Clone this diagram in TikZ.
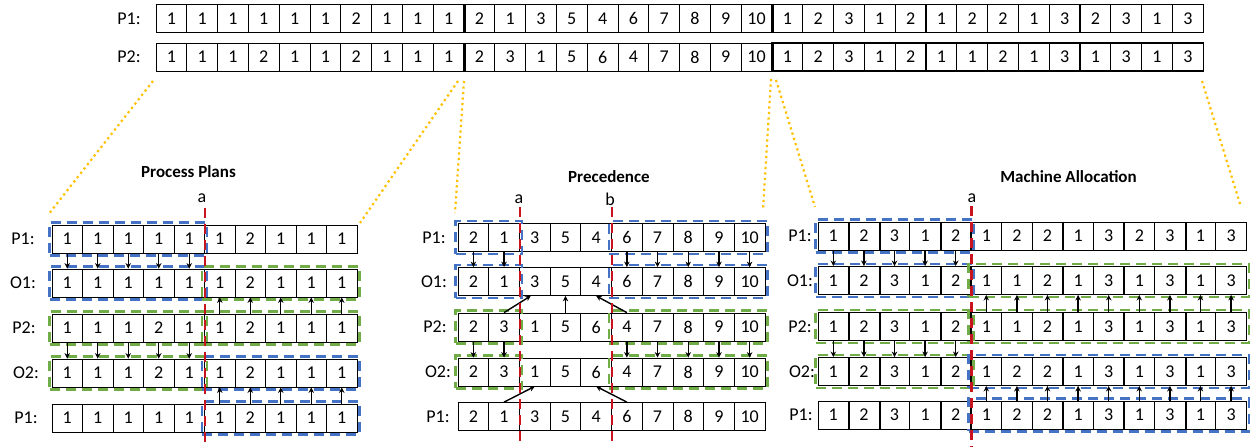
\documentclass[tikz,border=0pt]{standalone}
\usepackage{fontspec}
\setmainfont{Carlito}
\usetikzlibrary{arrows.meta,fit}

\definecolor{boxblue}{RGB}{68,114,196}
\definecolor{boxgreen}{RGB}{112,173,71}
\definecolor{cutred}{RGB}{200,20,30}
\definecolor{linkgold}{RGB}{255,192,0}

\tikzset{
  cell/.style={draw=black, line width=0.8pt, minimum height=28pt, inner sep=0pt,
    font=\fontsize{18}{21}\selectfont},
  rowlabel/.style={font=\fontsize{18}{21}\selectfont, inner sep=0pt},
  paneltitle/.style={font=\fontsize{17}{20}\selectfont\bfseries, inner sep=0pt},
  cutlabel/.style={font=\fontsize{18}{21}\selectfont, inner sep=0pt},
  cutline/.style={draw=cutred, line width=2.5pt, dash pattern=on 10pt off 6pt},
  bluebox/.style={draw=boxblue, line width=2.5pt, dash pattern=on 10pt off 6pt, inner sep=2pt},
  greenbox/.style={draw=boxgreen, line width=2.5pt, dash pattern=on 10pt off 6pt, inner sep=2pt},
  link/.style={draw=linkgold, line width=2.2pt, dash pattern=on 2.2pt off 3.3pt},
  arr/.style={-{Stealth[length=5.5pt,width=5.5pt]}, line width=1.4pt},
  segsep/.style={line width=3pt},
  groupsep/.style={line width=2pt},
}

% one row of cells: [extra style] {name}{left x}{centre y}{cell width}{values}
\newcommand\cellrow[6][]{%
  \foreach \v [count=\i] in {#6} {
    \node[cell, #1, minimum width=#5pt] (#2-\i) at ({#3+(\i-0.5)*#5}, #4) {\v};
  }}

\begin{document}
\begin{tikzpicture}[x=1pt, y=-1pt]
\useasboundingbox (0,0) rectangle (1250,447);

% ---------------- chromosome strings ----------------
\node[rowlabel] (lblTA) at (129,18.5) {P1:};
\node[rowlabel] (lblTB) at (129,57) {P2:};
\cellrow{tA1}{156}{18.5}{30.8}{1,1,1,1,1,1,2,1,1,1}
\cellrow{tA2}{464}{18.5}{30.8}{2,1,3,5,4,6,7,8,9,10}
\cellrow[line width=1.3pt]{tA3}{772}{18.5}{30.8}{1,2,3,1,2,1,2,2,1,3,2,3,1,3}
\cellrow{tB1}{156}{57}{30.8}{1,1,1,2,1,1,2,1,1,1}
\cellrow{tB2}{464}{57}{30.8}{2,3,1,5,6,4,7,8,9,10}
\cellrow[line width=1.3pt]{tB3}{772}{57}{30.8}{1,2,3,1,2,1,1,2,1,3,1,3,1,3}
\foreach \r in {tA,tB} {
  \draw[segsep] (\r1-10.north east) -- (\r1-10.south east);
  \draw[segsep] (\r2-10.north east) -- (\r2-10.south east);
}

% links from the strings to the three operators
\coordinate (lk1s) at (153,81);  \coordinate (lk1e) at (48,215);
\coordinate (lk2s) at (458,81);  \coordinate (lk2e) at (360,223);
\coordinate (lk3s) at (464,81);  \coordinate (lk3e) at (455,213);
\coordinate (lk4s) at (771,79);  \coordinate (lk4e) at (763,210);
\coordinate (lk5s) at (776,80);  \coordinate (lk5e) at (815,207);
\coordinate (lk6s) at (1202,81); \coordinate (lk6e) at (1241,207);
\foreach \k in {1,...,6} \draw[link] (lk\k s) -- (lk\k e);

% ---------------- process plans ----------------
\node[paneltitle] (ttlL) at (188.5,172) {Process Plans};
\node[rowlabel] (lblL1) at (23,239) {P1:};
\node[rowlabel] (lblL2) at (23,283) {O1:};
\node[rowlabel] (lblL3) at (24,328) {P2:};
\node[rowlabel] (lblL4) at (26,373) {O2:};
\node[rowlabel] (lblL5) at (26,418) {P1:};
\cellrow{L1}{52}{239}{30.5}{1,1,1,1,1,1,2,1,1,1}
\cellrow{L2}{52}{283}{30.5}{1,1,1,1,1,1,2,1,1,1}
\cellrow{L3}{52}{328}{30.5}{1,1,1,2,1,1,2,1,1,1}
\cellrow{L4}{52}{373}{30.5}{1,1,1,2,1,1,2,1,1,1}
\cellrow{L5}{52}{418}{30.5}{1,1,1,1,1,1,2,1,1,1}

\node[bluebox, fit=(L1-1)(L1-5)] (bL1a) {};
\node[bluebox, fit=(L2-1)(L2-5)] (bL2a) {};
\node[greenbox, fit=(L2-6)(L2-10)] (gL2b) {};
\node[greenbox, fit=(L3-1)(L3-5)] (gL3a) {};
\node[greenbox, fit=(L3-6)(L3-10)] (gL3b) {};
\node[greenbox, fit=(L4-1)(L4-5)] (gL4a) {};
\node[bluebox, fit=(L4-6)(L4-10)] (bL4b) {};
\node[bluebox, fit=(L5-6)(L5-10)] (bL5b) {};

\foreach \i in {1,...,5} {
  \draw[arr] (L1-\i.south) -- (L2-\i.north);
  \draw[arr] (L3-\i.south) -- (L4-\i.north);
}
\foreach \i in {6,...,10} {
  \draw[arr] (L3-\i.north) -- (L2-\i.south);
  \draw[arr] (L5-\i.north) -- (L4-\i.south);
}

\path (L1-5.north east) ++(0,-17) coordinate (cutLaT);
\path (L5-5.south east) ++(0,16) coordinate (cutLaB);
\draw[cutline] (cutLaT) -- (cutLaB);
\node[cutlabel] (labLa) at (202,198) {a};

% ---------------- precedence ----------------
\node[paneltitle] (ttlM) at (609,177) {Precedence};
\node[rowlabel] (lblM1) at (434,237.5) {P1:};
\node[rowlabel] (lblM2) at (434,281.5) {O1:};
\node[rowlabel] (lblM3) at (435,327) {P2:};
\node[rowlabel] (lblM4) at (438,372) {O2:};
\node[rowlabel] (lblM5) at (438,416.5) {P1:};
\cellrow{M1}{458}{237.5}{30.7}{2,1,3,5,4,6,7,8,9,10}
\cellrow{M2}{458}{281.5}{30.7}{2,1,3,5,4,6,7,8,9,10}
\cellrow{M3}{458}{327}{30.7}{2,3,1,5,6,4,7,8,9,10}
\cellrow{M4}{458}{372}{30.7}{2,3,1,5,6,4,7,8,9,10}
\cellrow{M5}{458}{416.5}{30.7}{2,1,3,5,4,6,7,8,9,10}

\node[bluebox, fit=(M1-1)(M1-2)] (bM1a) {};
\node[bluebox, fit=(M1-6)(M1-10)] (bM1b) {};
\node[bluebox, fit=(M2-1)(M2-2)] (bM2a) {};
\node[bluebox, fit=(M2-6)(M2-10)] (bM2b) {};
\node[greenbox, fit=(M3-1)(M3-2)] (gM3a) {};
\node[greenbox, fit=(M3-6)(M3-10)] (gM3b) {};
\node[greenbox, fit=(M4-1)(M4-2)] (gM4a) {};
\node[greenbox, fit=(M4-6)(M4-10)] (gM4b) {};

\foreach \i in {1,2,6,7,8,9,10} {
  \draw[arr] (M1-\i.south) -- (M2-\i.north);
  \draw[arr] (M3-\i.south) -- (M4-\i.north);
}
\draw[arr] (M3-2.north) -- ([xshift=-4pt]M2-3.south);
\draw[arr] (M3-4.north) -- (M2-4.south);
\draw[arr] (M3-6.north) -- (M2-5.south);
\draw[arr] (M5-2.north) -- (M4-3.south);
\draw[arr] (M5-6.north) -- (M4-5.south);

\path (M1-2.north east) ++(0,-16) coordinate (cutMaT);
\path (M5-2.south east) ++(0,17) coordinate (cutMaB);
\path (M1-5.north east) ++(0,-16) coordinate (cutMbT);
\path (M5-5.south east) ++(0,17) coordinate (cutMbB);
\draw[cutline] (cutMaT) -- (cutMaB);
\draw[cutline] (cutMbT) -- (cutMbB);
\node[cutlabel] (labMa) at (519,199) {a};
\node[cutlabel] (labMb) at (610,199) {b};

% ---------------- machine allocation ----------------
\node[paneltitle] (ttlR) at (1068.5,177) {Machine Allocation};
\node[rowlabel] (lblR1) at (800,236) {P1:};
\node[rowlabel] (lblR2) at (800,280.5) {O1:};
\node[rowlabel] (lblR3) at (800,326.5) {P2:};
\node[rowlabel] (lblR4) at (802,371.5) {O2:};
\node[rowlabel] (lblR5) at (801,415) {P1:};
\cellrow[line width=0.9pt]{R1}{818}{236}{30.6}{1,2,3,1,2,1,2,2,1,3,2,3,1,3}
\cellrow[line width=0.9pt]{R2}{818}{280.5}{30.6}{1,2,3,1,2,1,1,2,1,3,1,3,1,3}
\cellrow[line width=0.9pt]{R3}{818}{326.5}{30.6}{1,2,3,1,2,1,1,2,1,3,1,3,1,3}
\cellrow[line width=0.9pt]{R4}{818}{371.5}{30.6}{1,2,3,1,2,1,2,2,1,3,1,3,1,3}
\cellrow[line width=0.9pt]{R5}{818}{415}{30.6}{1,2,3,1,2,1,2,2,1,3,1,3,1,3}
\foreach \r in {1,...,5}
  \foreach \k in {1,2,4,5,8,10,12}
    \draw[groupsep] (R\r-\k.north east) -- (R\r-\k.south east);

\node[bluebox, fit=(R1-1)(R1-5)] (bR1a) {};
\node[bluebox, fit=(R2-1)(R2-5)] (bR2a) {};
\node[greenbox, fit=(R2-6)(R2-14)] (gR2b) {};
\node[greenbox, fit=(R3-1)(R3-5)] (gR3a) {};
\node[greenbox, fit=(R3-6)(R3-14)] (gR3b) {};
\node[greenbox, fit=(R4-1)(R4-5)] (gR4a) {};
\node[bluebox, fit=(R4-6)(R4-14)] (bR4b) {};
\node[bluebox, fit=(R5-6)(R5-14)] (bR5b) {};

\foreach \i in {1,...,5} {
  \draw[arr] (R1-\i.south) -- (R2-\i.north);
  \draw[arr] (R3-\i.south) -- (R4-\i.north);
}
\foreach \i in {6,...,14} {
  \draw[arr] (R3-\i.north) -- (R2-\i.south);
  \draw[arr] (R5-\i.north) -- (R4-\i.south);
}

\path (R1-5.north east) ++(0,-16) coordinate (cutRaT);
\path (R5-5.south east) ++(0,18) coordinate (cutRaB);
\draw[cutline] (cutRaT) -- (cutRaB);
\node[cutlabel] (labRa) at (972,198) {a};
\end{tikzpicture}
\end{document}
